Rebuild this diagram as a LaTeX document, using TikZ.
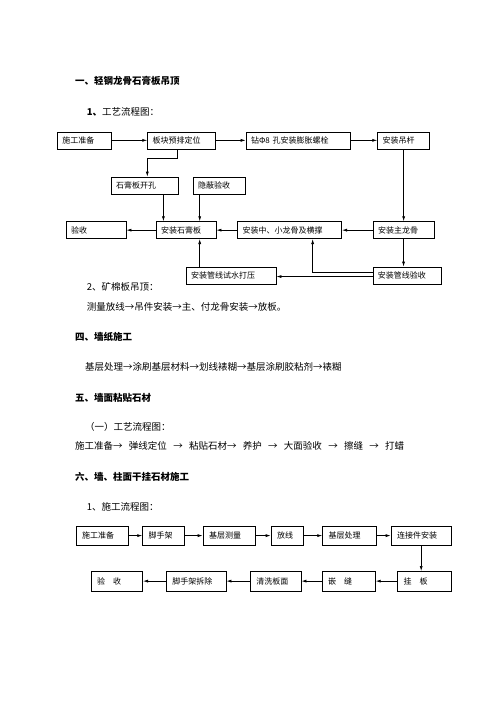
\documentclass[tikz,border=0pt]{standalone}
\usepackage{fontspec}
\setmainfont{Noto Sans CJK SC}
\usetikzlibrary{arrows.meta}

\begin{document}
\begin{tikzpicture}[x=1pt,y=-1pt,
	box/.style={draw,line width=0.7pt,anchor=north west,minimum height=17pt,inner xsep=5pt,inner ysep=0pt,align=left,font=\fontsize{8}{9}\selectfont},
	bigbox/.style={box,minimum height=19.5pt,inner xsep=6pt},
	flow/.style={line width=0.7pt,-{Latex[length=5pt,width=3pt]}},
	txt/.style={anchor=west,inner sep=0pt,font=\fontsize{9.5}{11}\selectfont},
	head/.style={txt,font=\fontsize{9.5}{11}\selectfont\bfseries}]
			\fill[white](0,0) rectangle (496,702);
			% headings and plain lines
			\node[head] (h1) at (75,80.7) {一、轻钢龙骨石膏板吊顶};
			\node[txt] (t1) at (86.7,111.7) {\textbf{1、}工艺流程图：};
			\node[txt] (t2) at (86.7,286.5) {2、矿棉板吊顶：};
			\node[txt] (t3) at (86.7,306.7) {测量放线→吊件安装→主、付龙骨安装→放板。};
			\node[head] (h2) at (75,336.7) {四、墙纸施工};
			\node[txt] (t4) at (85,366.7) {基层处理→涂刷基层材料→划线裱糊→基层涂刷胶粘剂→裱糊};
			\node[head] (h3) at (75,397.7) {五、墙面粘贴石材};
			\node[txt] (t5) at (85,427.3) {（一）工艺流程图：};
			\node[txt] (t6) at (75,446) {施工准备→\hspace{6.3pt}弹线定位\hspace{6.3pt}→\hspace{6.3pt}粘贴石材→\hspace{6.3pt}养护\hspace{6.3pt}→\hspace{6.3pt}大面验收\hspace{6.3pt}→\hspace{6.3pt}擦缝\hspace{6.3pt}→\hspace{6.3pt}打蜡};
			\node[head] (h4) at (75,476.7) {六、墙、柱面干挂石材施工};
			\node[txt] (t7) at (86.7,506.7) {1、施工流程图：};
			% ceiling flow
			\node[box,text width=44pt] (prep) at (57,131.5) {施工准备};
			\node[box,text width=58pt] (layout) at (147.3,131.5) {板块预排定位};
			\node[box,text width=94pt] (drill) at (245.7,131.5) {钻Φ8 孔安装膨胀螺栓};
			\node[box,text width=42pt] (rod) at (377.3,131.5) {安装吊杆};
			\node[box,text width=57pt] (hole) at (110.7,176.7) {石膏板开孔};
			\node[box,text width=42pt] (hidden) at (192.7,176.7) {隐蔽验收};
			\node[box,text width=50pt] (accept) at (65.7,221.3) {验收};
			\node[box,text width=50pt] (board) at (155.7,221.3) {安装石膏板};
			\node[box,text width=94pt] (minor) at (237.3,221.3) {安装中、小龙骨及横撑};
			\node[box,text width=51pt] (main) at (372.7,221.3) {安装主龙骨};
			\node[box,text width=80pt] (press) at (185.7,266.7) {安装管线试水打压};
			\node[box,text width=58pt] (pipe) at (372.5,266.7) {安装管线验收};
			\coordinate (bend) at (147.3,158.3);
			\draw[flow](prep)--(layout);
			\draw[flow](layout)--(drill);
			\draw[flow](drill)--(rod);
			\draw[flow]([xshift=-4pt]layout.south)|-(bend)--(bend |- hole.north);
			\draw[flow](rod.south)--(rod.south |- main.north);
			\draw[flow]([xshift=-15pt]hole.south east)--([xshift=-15pt]hole.south east |- board.north);
			\draw[flow]([xshift=7pt]hidden.south west)--([xshift=7pt]hidden.south west |- board.north);
			\draw[flow](main)--(minor);
			\draw[flow](minor)--(board);
			\draw[flow](board)--(accept);
			\draw[flow](main.south)--(main.south |- pipe.north);
			\draw[flow]([xshift=14pt]press.north west)--([xshift=14pt]press.north west |- board.south);
			\draw[flow]([yshift=3pt]pipe.west)-|([xshift=23pt]minor.south);
			\draw[flow]([yshift=-1pt]pipe.west)--([yshift=-1pt]pipe.west -| press.east);
			% stone cladding flow
			\node[bigbox,text width=40pt] (ready) at (75.7,525.5) {施工准备};
			\node[bigbox,text width=30pt] (scaf) at (142.3,525.5) {脚手架};
			\node[bigbox,text width=40.5pt] (survey) at (202.7,525.5) {基层测量};
			\node[bigbox,text width=20.6pt] (mark) at (270.7,525.5) {放线};
			\node[bigbox,text width=41.4pt] (base) at (322.3,525.5) {基层处理};
			\node[bigbox,text width=48.3pt] (anchor) at (390.7,525.5) {连接件安装};
			\node[bigbox,text width=39.6pt] (check) at (90.7,571) {验　收};
			\node[bigbox,text width=47.7pt] (unscaf) at (166,571) {脚手架拆除};
			\node[bigbox,text width=38.7pt] (clean) at (250,571) {清洗板面};
			\node[bigbox,text width=41.3pt] (joint) at (321.7,571) {嵌　缝};
			\node[bigbox,text width=41.7pt] (hang) at (397.3,571) {挂　板};
			\draw[flow](ready)--(scaf);
			\draw[flow](scaf)--(survey);
			\draw[flow](survey)--(mark);
			\draw[flow](mark)--(base);
			\draw[flow](base)--(anchor);
			\draw[flow](anchor.south)--(anchor.south |- hang.north);
			\draw[flow](hang)--(joint);
			\draw[flow](joint)--(clean);
			\draw[flow](clean)--(unscaf);
			\draw[flow](unscaf)--(check);
		\end{tikzpicture}
\end{document}
